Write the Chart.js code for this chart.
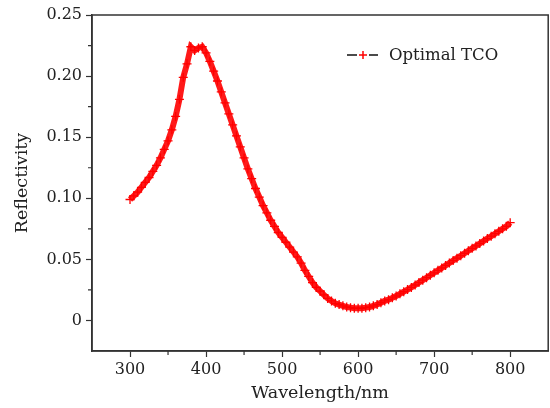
<!DOCTYPE html>
<html>
<head>
<meta charset="utf-8">
<script src="https://cdn.jsdelivr.net/npm/chart.js@4.4.0/dist/chart.umd.min.js"></script>
<style>
  html, body { margin: 0; padding: 0; background: #fff; overflow: hidden; }
  #wrap { width: 554px; height: 408px; }
</style>
</head>
<body>
<div id="wrap"><canvas id="reflChart"></canvas></div>
<script>
// wavelength (nm), 5 nm step
const wavelengths = [
  300, 305, 310, 315, 320, 325, 330, 335, 340, 345,
  350, 355, 360, 365, 370, 375, 380, 385, 390, 395,
  400, 405, 410, 415, 420, 425, 430, 435, 440, 445,
  450, 455, 460, 465, 470, 475, 480, 485, 490, 495,
  500, 505, 510, 515, 520, 525, 530, 535, 540, 545,
  550, 555, 560, 565, 570, 575, 580, 585, 590, 595,
  600, 605, 610, 615, 620, 625, 630, 635, 640, 645,
  650, 655, 660, 665, 670, 675, 680, 685, 690, 695,
  700, 705, 710, 715, 720, 725, 730, 735, 740, 745,
  750, 755, 760, 765, 770, 775, 780, 785, 790, 795,
  800
];
// reflectivity of the optimal TCO
const reflectivity = [
  0.099, 0.102, 0.105, 0.109, 0.113, 0.117, 0.122, 0.127, 0.133, 0.140,
  0.147, 0.156, 0.167, 0.181, 0.199, 0.210, 0.224, 0.221, 0.223, 0.224,
  0.219, 0.212, 0.204, 0.196, 0.187, 0.178, 0.169, 0.160, 0.151, 0.142,
  0.133, 0.124, 0.116, 0.108, 0.101, 0.094, 0.088, 0.082, 0.077, 0.072,
  0.068, 0.064, 0.060, 0.056, 0.052, 0.047, 0.041, 0.036, 0.031, 0.027,
  0.024, 0.021, 0.018, 0.016, 0.014, 0.013, 0.012, 0.011, 0.0105, 0.010,
  0.010, 0.010, 0.0105, 0.011, 0.012, 0.013, 0.0145, 0.016, 0.017, 0.0185,
  0.020, 0.0218, 0.0235, 0.0253, 0.027, 0.029, 0.031, 0.033, 0.035, 0.037,
  0.039, 0.041, 0.043, 0.045, 0.047, 0.049, 0.051, 0.053, 0.055, 0.057,
  0.059, 0.061, 0.063, 0.065, 0.067, 0.069, 0.071, 0.073, 0.075, 0.077,
  0.080
];
const xTicks = [300, 400, 500, 600, 700, 800];
const yTicks = [0, 0.05, 0.10, 0.15, 0.20, 0.25];
const xMinorTicks = [350, 450, 550, 650, 750];
const yMinorTicks = [0.025, 0.075, 0.125, 0.175, 0.225];
const seriesName = 'Optimal TCO';

const FONT = 'DejaVu Serif';
const AXIS = '#333';

// frame, minor ticks and the legend
const decorPlugin = {
  id: 'decor',
  afterDraw(chart) {
    const ctx = chart.ctx;
    const a = chart.chartArea;
    const xs = chart.scales.x, ys = chart.scales.y;
    ctx.save();
    ctx.strokeStyle = AXIS;
    ctx.lineWidth = 1.5;
    ctx.strokeRect(a.left, a.top, a.right - a.left, a.bottom - a.top);

    ctx.lineWidth = 1.2;
    ctx.beginPath();
    xMinorTicks.forEach(v => {
      const px = xs.getPixelForValue(v);
      ctx.moveTo(px, a.bottom);
      ctx.lineTo(px, a.bottom + 4);
    });
    yMinorTicks.forEach(v => {
      const py = ys.getPixelForValue(v);
      ctx.moveTo(a.left, py);
      ctx.lineTo(a.left - 4, py);
    });
    ctx.stroke();

    // legend
    const ly = 55;
    ctx.strokeStyle = '#111';
    ctx.lineWidth = 1.5;
    ctx.beginPath();
    ctx.moveTo(347, ly); ctx.lineTo(357, ly);
    ctx.moveTo(369, ly); ctx.lineTo(378, ly);
    ctx.stroke();
    ctx.strokeStyle = 'red';
    ctx.lineWidth = 1.5;
    ctx.beginPath();
    ctx.moveTo(363, ly - 4); ctx.lineTo(363, ly + 4);
    ctx.moveTo(359, ly); ctx.lineTo(367, ly);
    ctx.stroke();
    ctx.fillStyle = '#222';
    ctx.font = '16.5px "' + FONT + '"';
    ctx.textBaseline = 'middle';
    ctx.fillText(seriesName, 389, ly + 1);
    ctx.restore();
  }
};

const ctx = document.getElementById('reflChart').getContext('2d');
new Chart(ctx, {
  type: 'line',
  data: {
    datasets: [{
      label: seriesName,
      data: wavelengths.map((w, i) => ({ x: w, y: reflectivity[i] })),
      borderColor: 'rgba(255,0,0,0.9)',
      borderWidth: 6,
      pointStyle: 'cross',
      pointRadius: 4.5,
      pointBorderWidth: 1.3,
      pointBorderColor: 'red',
      pointBackgroundColor: 'red',
      tension: 0,
      fill: false
    }]
  },
  options: {
    responsive: true,
    maintainAspectRatio: false,
    animation: false,
    layout: { padding: { top: 15, right: 2, left: 0, bottom: 0 } },
    plugins: {
      legend: { display: false },
      tooltip: { enabled: false }
    },
    scales: {
      x: {
        type: 'linear',
        min: 250,
        max: 850,
        afterBuildTicks: s => { s.ticks = xTicks.map(v => ({ value: v })); },
        afterFit: s => { s.height = 57; },
        grid: { drawOnChartArea: false, tickLength: 6, tickWidth: 1.2, tickColor: AXIS },
        border: { color: AXIS, width: 1.5 },
        ticks: { color: '#222', font: { family: FONT, size: 16 }, padding: 3, maxRotation: 0 },
        title: { display: true, text: 'Wavelength/nm', color: '#222', font: { family: FONT, size: 17.5 }, padding: { top: 6 } }
      },
      y: {
        type: 'linear',
        min: -0.025,
        max: 0.25,
        afterBuildTicks: s => { s.ticks = yTicks.map(v => ({ value: v })); },
        afterFit: s => { s.width = 92; },
        grid: { drawOnChartArea: false, tickLength: 6, tickWidth: 1.2, tickColor: AXIS },
        border: { color: AXIS, width: 1.5 },
        ticks: {
          color: '#222',
          font: { family: FONT, size: 16 },
          padding: 4,
          callback: v => v === 0 ? '0' : v.toFixed(2)
        },
        title: { display: true, text: 'Reflectivity', color: '#222', font: { family: FONT, size: 17.5 }, padding: { top: 12, bottom: 4 } }
      }
    }
  },
  plugins: [decorPlugin]
});
</script>
</body>
</html>
